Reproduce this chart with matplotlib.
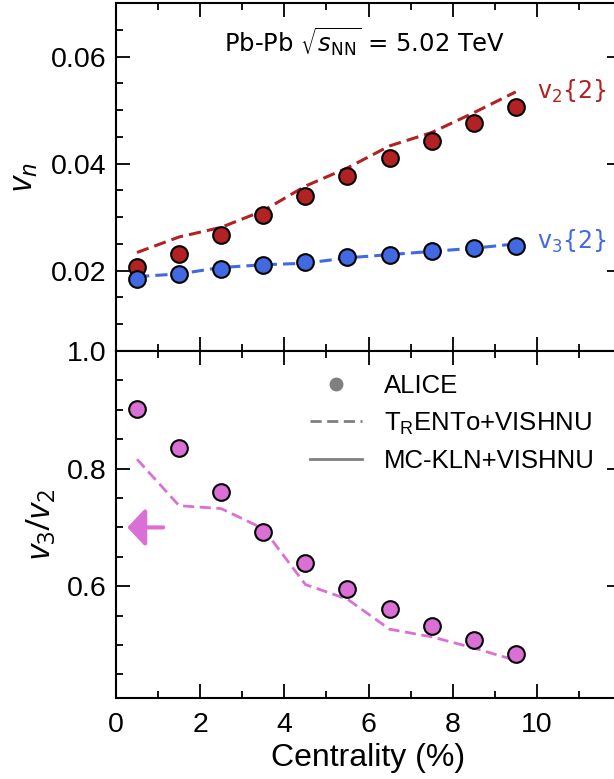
import matplotlib
matplotlib.use("Agg")
import matplotlib.pyplot as plt
from matplotlib.lines import Line2D
from matplotlib.ticker import MultipleLocator, FuncFormatter

plt.rcParams['font.family'] = ['Liberation Sans', 'DejaVu Sans']
plt.rcParams['mathtext.fontset'] = 'custom'
plt.rcParams['mathtext.rm'] = 'Open Sans'
plt.rcParams['mathtext.it'] = 'Open Sans:italic'
plt.rcParams['mathtext.bf'] = 'Open Sans:bold'

# data
centrality = [0.5, 1.5, 2.5, 3.5, 4.5, 5.5, 6.5, 7.5, 8.5, 9.5]
v2_alice = [0.0206, 0.0232, 0.0267, 0.0304, 0.0340, 0.0377, 0.0410, 0.0443, 0.0475, 0.0506]
v3_alice = [0.0184, 0.0193, 0.0204, 0.0210, 0.0216, 0.0225, 0.0230, 0.0236, 0.0242, 0.0246]
v2_trento = [0.0234, 0.0263, 0.0281, 0.0312, 0.0358, 0.0392, 0.0433, 0.0458, 0.0495, 0.0534]
v3_trento = [0.0189, 0.0194, 0.0206, 0.0211, 0.0214, 0.0224, 0.0230, 0.0236, 0.0242, 0.0250]
ratio_alice = [0.902, 0.835, 0.761, 0.692, 0.640, 0.596, 0.562, 0.532, 0.509, 0.485]
ratio_trento = [0.816, 0.737, 0.732, 0.698, 0.603, 0.578, 0.527, 0.514, 0.495, 0.474]
ratio_arrow = 0.70

red = '#B22222'
blue = '#4169E1'
pink = '#DA70D6'

fig = plt.figure(figsize=(6.14, 7.79), dpi=100)
ax1 = fig.add_axes([116/614, 1 - 351/779, 505/614, 348/779])
ax2 = fig.add_axes([116/614, 1 - 698/779, 505/614, 347/779], sharex=ax1)

# upper panel: v2, v3
ax1.plot(centrality, v2_trento, '--', color=red, lw=2.2, dashes=(4, 2), zorder=2)
ax1.plot(centrality, v3_trento, '--', color=blue, lw=2.2, dashes=(4, 2), zorder=2)
ax1.plot(centrality, v2_alice, 'o', ms=12, mfc=red, mec='black', mew=1.5, zorder=3)
ax1.plot(centrality, v3_alice, 'o', ms=12, mfc=blue, mec='black', mew=1.5, zorder=4)
ax1.text(10.0, 0.0535, r'v$_2${2}', color=red, fontsize=17, ha='left', va='center',
         family='DejaVu Sans', math_fontfamily='dejavusans')
ax1.text(10.0, 0.0255, r'v$_3${2}', color=blue, fontsize=17, ha='left', va='center',
         family='DejaVu Sans', math_fontfamily='dejavusans')
ax1.text(5.9, 0.0628, r'Pb-Pb $\sqrt{s_{\rm NN}}$ = 5.02 TeV', fontsize=17.5,
         ha='center', va='center', family='DejaVu Sans', math_fontfamily='dejavusans')
ax1.set_ylim(0.005, 0.070)
ax1.yaxis.set_major_locator(MultipleLocator(0.02))
ax1.yaxis.set_minor_locator(MultipleLocator(0.005))
ax1.set_ylabel(r'$v_n$', fontsize=24, labelpad=8)
ax1.tick_params(labelbottom=False)

# lower panel: ratio
ax2.plot(centrality, ratio_trento, '--', color=pink, lw=2.0, dashes=(4, 2), zorder=2)
ax2.plot(centrality, ratio_alice, 'o', ms=12, mfc=pink, mec='black', mew=1.5, zorder=3)
ax2.annotate('', xy=(0.27, ratio_arrow), xytext=(1.12, ratio_arrow),
             arrowprops=dict(arrowstyle='-|>,head_length=0.77,head_width=0.82',
                             color=pink, lw=3, mutation_scale=14,
                             shrinkA=0, shrinkB=0))
ax2.set_ylim(0.41, 1.0)
ax2.yaxis.set_major_locator(MultipleLocator(0.2))
ax2.yaxis.set_minor_locator(MultipleLocator(0.05))
ax2.set_ylabel(r'$v_3/v_2$', fontsize=24, labelpad=6)
ax2.set_xlabel('Centrality (%)', fontsize=23)

handles = [
    Line2D([], [], ls='none', marker='o', ms=9, color='gray'),
    Line2D([], [], ls='--', color='gray', lw=2, dashes=(4, 2)),
    Line2D([], [], ls='-', color='gray', lw=2),
]
labels = ['ALICE', r'T$_\mathregular{R}$ENTo+VISHNU', 'MC-KLN+VISHNU']
ax2.legend(handles, labels, loc='upper left', bbox_to_anchor=(0.385, 0.935),
           frameon=False, fontsize=18.5, handlelength=2.0, handletextpad=0.85,
           labelspacing=0.5, borderaxespad=0, borderpad=0)

ax1.set_xlim(0, 12)
ax1.xaxis.set_major_locator(MultipleLocator(2))
ax1.xaxis.set_minor_locator(MultipleLocator(1))
ax2.xaxis.set_major_formatter(FuncFormatter(lambda v, p: '' if v > 11 else f'{v:g}'))

for ax in (ax1, ax2):
    for s in ax.spines.values():
        s.set_linewidth(1.5)
    ax.tick_params(which='both', direction='in', top=True, right=True, width=1.3)
    ax.tick_params(which='major', length=10, labelsize=20.5, pad=7)
    ax.tick_params(which='minor', length=5)
ax2.tick_params(axis='x', which='major', pad=10)

fig.savefig('out.png', dpi=100)
